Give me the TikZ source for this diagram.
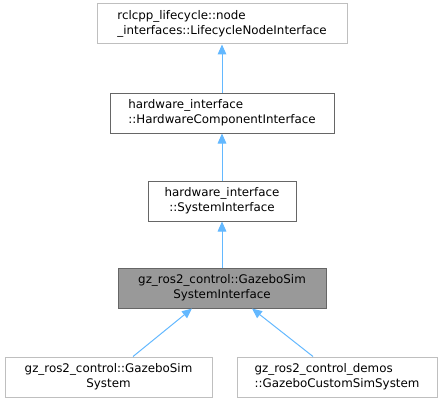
\documentclass[tikz,border=0pt]{standalone}
\usepackage{fontspec}
\setmainfont{DejaVu Sans}
\usetikzlibrary{arrows.meta}
\definecolor{edgeblue}{HTML}{63B8FF}
\definecolor{darkframe}{HTML}{666666}
\definecolor{lightframe}{HTML}{BFBFBF}
\definecolor{curfill}{HTML}{999999}

\begin{document}
\begin{tikzpicture}[x=0.75pt, y=-0.75pt,
    cls/.style={draw=#1, fill=white, line width=0.75pt, inner sep=0pt,
        minimum height=30pt, font=\fontsize{8.9}{11}\selectfont},
    edge/.style={draw=edgeblue, line width=0.75pt,
        -{Triangle[length=7.5pt, width=6.5pt]}}]
    \useasboundingbox (0,0) rectangle (445,403);
    % inheritance chain
    \node[cls=lightframe, minimum width=187.5pt, align=left] (lifecycle) at (222,24)
        {rclcpp\_lifecycle::node\\\_interfaces::LifecycleNodeInterface};
    \node[cls=darkframe, minimum width=168pt, align=left] (hwcomp) at (222,113)
        {hardware\_interface\\::HardwareComponentInterface};
    \node[cls=darkframe, minimum width=111pt, align=center] (sysif) at (222,201)
        {hardware\_interface\\::SystemInterface};
    \node[cls=darkframe, fill=curfill, minimum width=156pt, align=center] (gzsysif) at (222,288)
        {gz\_ros2\_control::GazeboSim\\SystemInterface};
    % derived classes
    \node[cls=lightframe, minimum width=155.25pt, align=center] (gzsys) at (108.5,377)
        {gz\_ros2\_control::GazeboSim\\System};
    \node[cls=lightframe, minimum width=150pt, align=left] (custom) at (337,377)
        {gz\_ros2\_control\_demos\\::GazeboCustomSimSystem};
    \draw[edge] (hwcomp) -- (lifecycle);
    \draw[edge] (sysif) -- (hwcomp);
    \draw[edge] (gzsysif) -- (sysif);
    \draw[edge] ([xshift=18.4pt]gzsys.north) -- ([xshift=-22.5pt]gzsysif.south);
    \draw[edge] ([xshift=-18pt]custom.north) -- ([xshift=22.5pt]gzsysif.south);
\end{tikzpicture}
\end{document}
